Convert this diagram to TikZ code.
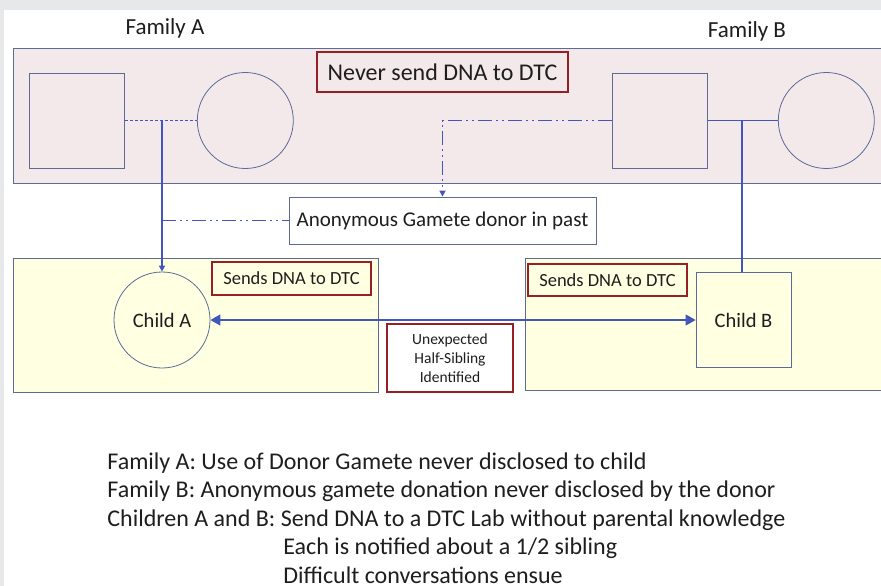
\documentclass[tikz,border=0pt]{standalone}
\usepackage{fontspec}
\setmainfont{Carlito}
\usetikzlibrary{positioning,arrows.meta}
\definecolor{linkblue}{RGB}{66,86,190}
\definecolor{edgegrey}{RGB}{92,106,150}
\definecolor{boxred}{RGB}{150,32,36}
\definecolor{pinkband}{RGB}{243,233,234}
\definecolor{yellowband}{RGB}{255,255,226}
\definecolor{pagegrey}{RGB}{230,232,234}
\definecolor{inkgrey}{RGB}{30,30,30}

\begin{document}
\begin{tikzpicture}[x=1pt,y=-1pt,line width=.8pt,text=inkgrey,
  male/.style={draw=edgegrey,rectangle,minimum width=95pt,minimum height=95pt,inner sep=0pt},
  female/.style={draw=edgegrey,circle,minimum size=96pt,inner sep=0pt},
  redbox/.style={draw=boxred,line width=1.6pt,inner sep=0pt},
  link/.style={draw=linkblue,line width=1.6pt},
  donorlink/.style={link,dash pattern=on 14pt off 4pt on 2pt off 4pt on 2pt off 4pt},
  smalltip/.style={-{Triangle[length=6pt,width=6pt]}},
  bigtips/.style={{Triangle[length=10pt,width=11pt]}-{Triangle[length=10pt,width=11pt]}}
]
\useasboundingbox (0,0) rectangle (881,586);
\fill[pagegrey] (0,0) rectangle (881,586);
\fill[white] (4,10) rectangle (881,586);

% bands
\filldraw[fill=pinkband,draw=edgegrey] (13,48) rectangle (884,183);
\filldraw[fill=yellowband,draw=edgegrey] (13,258) rectangle (378,392);
\filldraw[fill=yellowband,draw=edgegrey] (525,258) rectangle (884,390);

\node[font=\fontsize{23}{28}\selectfont] (famA) at (165,28) {Family A};
\node[font=\fontsize{23}{28}\selectfont] (famB) at (747,31) {Family B};

% parents
\node[male] (fatherA) at (77,120.5) {};
\node[female,right=72pt of fatherA] (motherA) {};
\node[male] (fatherB) at (660,120.5) {};
\node[female,right=70pt of fatherB] (motherB) {};

\node[redbox,minimum width=251pt,minimum height=40pt,font=\fontsize{24}{29}\selectfont]
  (never) at (442.5,72) {Never send DNA to DTC};
\node[draw=edgegrey,inner sep=0pt,minimum width=307pt,minimum height=47pt,font=\fontsize{21}{25}\selectfont]
  (donor) at (442.5,220.5) {Anonymous Gamete donor in past};

% children
\node[draw=edgegrey,circle,minimum size=96pt,inner sep=0pt,font=\fontsize{20.5}{25}\selectfont]
  (childA) at (162,320) {Child A};
\node[male,font=\fontsize{20.5}{25}\selectfont] (childB) at (743.5,320) {Child B};

\node[redbox,minimum width=159pt,minimum height=33pt,font=\fontsize{18.5}{22}\selectfont]
  (sendsA) at (291.5,278.5) {Sends DNA to DTC};
\node[redbox,minimum width=159pt,minimum height=32pt,font=\fontsize{18.5}{22}\selectfont]
  (sendsB) at (607.5,280) {Sends DNA to DTC};
\node[redbox,fill=white,minimum width=126pt,minimum height=68pt,align=center,font=\fontsize{15.5}{19}\selectfont]
  (surprise) at (450,358) {Unexpected\\Half-Sibling\\Identified};

% lines of descent
\coordinate (unionA) at (162,120.5);
\coordinate (unionB) at (742,120.5);
\draw[link,line width=.9pt,dash pattern=on 3pt off 2pt] (fatherA) -- (motherA);
\draw[link,smalltip] (unionA) -- (childA);
\draw[link] (fatherB) -- (motherB);
\draw[link] (unionB) -- (unionB |- childB.north);
\draw[donorlink,smalltip] (fatherB.west) -| (donor.north);
\draw[donorlink] (unionA |- donor.west) -- (donor.west);
\draw[link,bigtips] (childA) -- (childB);

\node[anchor=north west,align=left,inner sep=0pt,text depth=0pt,font=\fontsize{24}{28.5}\selectfont] (notes) at (107,452)
  {Family A: Use of Donor Gamete never disclosed to child\\
   Family B: Anonymous gamete donation never disclosed by the donor\\
   Children A and B: Send DNA to a DTC Lab without parental knowledge\\
   \hspace*{176pt}Each is notified about a 1/2 sibling\\
   \hspace*{176pt}Difficult conversations ensue};
\end{tikzpicture}
\end{document}
